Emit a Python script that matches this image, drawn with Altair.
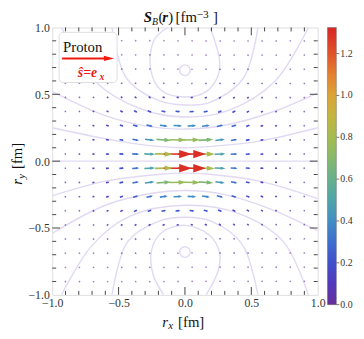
import math
import altair as alt
import pandas as pd

# ---------------- data ----------------
GRID_X = [-0.9, -0.794, -0.688, -0.582, -0.476, -0.371, -0.265, -0.159, -0.053,
          0.053, 0.159, 0.265, 0.371, 0.476, 0.582, 0.688, 0.794, 0.9]
GRID_Y = [0.9, 0.794, 0.688, 0.582, 0.476, 0.371, 0.265, 0.159, 0.053,
          -0.053, -0.159, -0.265, -0.371, -0.476, -0.582, -0.688, -0.794, -0.9]

# |S_B| at each arrow (rows top -> bottom, columns left -> right)
MAG = [
    [0.03, 0.03, 0.03, 0.03, 0.03, 0.03, 0.03, 0.03, 0.03, 0.03, 0.03, 0.03, 0.03, 0.03, 0.03, 0.03, 0.03, 0.03],
    [0.03, 0.03, 0.04, 0.04, 0.04, 0.04, 0.04, 0.03, 0.03, 0.03, 0.03, 0.04, 0.04, 0.04, 0.04, 0.04, 0.03, 0.03],
    [0.04, 0.04, 0.05, 0.05, 0.06, 0.06, 0.05, 0.04, 0.02, 0.02, 0.04, 0.05, 0.06, 0.06, 0.05, 0.05, 0.04, 0.04],
    [0.04, 0.05, 0.06, 0.07, 0.08, 0.08, 0.08, 0.07, 0.05, 0.05, 0.07, 0.08, 0.08, 0.08, 0.07, 0.06, 0.05, 0.04],
    [0.05, 0.07, 0.08, 0.10, 0.11, 0.12, 0.13, 0.13, 0.12, 0.12, 0.13, 0.13, 0.12, 0.11, 0.10, 0.08, 0.07, 0.05],
    [0.06, 0.08, 0.10, 0.12, 0.15, 0.18, 0.20, 0.22, 0.22, 0.22, 0.22, 0.20, 0.18, 0.15, 0.12, 0.10, 0.08, 0.06],
    [0.07, 0.09, 0.11, 0.15, 0.19, 0.25, 0.31, 0.37, 0.40, 0.40, 0.37, 0.31, 0.25, 0.19, 0.15, 0.11, 0.09, 0.07],
    [0.07, 0.09, 0.12, 0.16, 0.21, 0.30, 0.44, 0.68, 0.76, 0.76, 0.68, 0.44, 0.30, 0.21, 0.16, 0.12, 0.09, 0.07],
    [0.07, 0.09, 0.12, 0.16, 0.22, 0.32, 0.50, 0.82, 1.30, 1.30, 0.82, 0.50, 0.32, 0.22, 0.16, 0.12, 0.09, 0.07],
    [0.07, 0.09, 0.12, 0.16, 0.22, 0.32, 0.50, 0.82, 1.30, 1.30, 0.82, 0.50, 0.32, 0.22, 0.16, 0.12, 0.09, 0.07],
    [0.07, 0.09, 0.12, 0.16, 0.21, 0.30, 0.44, 0.68, 0.76, 0.76, 0.68, 0.44, 0.30, 0.21, 0.16, 0.12, 0.09, 0.07],
    [0.07, 0.09, 0.11, 0.15, 0.19, 0.25, 0.31, 0.37, 0.40, 0.40, 0.37, 0.31, 0.25, 0.19, 0.15, 0.11, 0.09, 0.07],
    [0.06, 0.08, 0.10, 0.12, 0.15, 0.18, 0.20, 0.22, 0.22, 0.22, 0.22, 0.20, 0.18, 0.15, 0.12, 0.10, 0.08, 0.06],
    [0.05, 0.07, 0.08, 0.10, 0.11, 0.12, 0.13, 0.13, 0.12, 0.12, 0.13, 0.13, 0.12, 0.11, 0.10, 0.08, 0.07, 0.05],
    [0.04, 0.05, 0.06, 0.07, 0.08, 0.08, 0.08, 0.07, 0.05, 0.05, 0.07, 0.08, 0.08, 0.08, 0.07, 0.06, 0.05, 0.04],
    [0.04, 0.04, 0.05, 0.05, 0.06, 0.06, 0.05, 0.04, 0.02, 0.02, 0.04, 0.05, 0.06, 0.06, 0.05, 0.05, 0.04, 0.04],
    [0.03, 0.03, 0.04, 0.04, 0.04, 0.04, 0.04, 0.03, 0.03, 0.03, 0.03, 0.04, 0.04, 0.04, 0.04, 0.04, 0.03, 0.03],
    [0.03, 0.03, 0.03, 0.03, 0.03, 0.03, 0.03, 0.03, 0.03, 0.03, 0.03, 0.03, 0.03, 0.03, 0.03, 0.03, 0.03, 0.03],
]

# direction of each arrow in degrees (counter-clockwise from +x)
ANG = [
    [-54, -55, -58, -62, -68, -78, -95, -115, -170, 170, 115, 95, 78, 68, 62, 58, 55, 54],
    [-52, -53, -55, -58, -64, -72, -85, -105, -150, 150, 105, 85, 72, 64, 58, 55, 53, 52],
    [-50, -50, -52, -55, -58, -65, -75, -85, -90, 90, 85, 75, 65, 58, 55, 52, 50, 50],
    [-45, -45, -46, -48, -50, -55, -60, -60, -35, 35, 60, 60, 55, 50, 48, 46, 45, 45],
    [-48, -47, -46, -45, -44, -42, -38, -25, -10, 10, 25, 38, 42, 44, 45, 46, 47, 48],
    [-28, -29, -30, -31, -30, -27, -20, -12, -5, 5, 12, 20, 27, 30, 31, 30, 29, 28],
    [-21, -21, -21, -21, -20, -17, -13, -8, -3, 3, 8, 13, 17, 20, 21, 21, 21, 21],
    [-14, -14, -14, -13, -12, -10, -7, -4, -1, 1, 4, 7, 10, 12, 13, 14, 14, 14],
    [-5, -5, -5, -4, -4, -3, -2, -1, 0, 0, 1, 2, 3, 4, 4, 5, 5, 5],
    [5, 5, 5, 4, 4, 3, 2, 1, 0, 0, -1, -2, -3, -4, -4, -5, -5, -5],
    [14, 14, 14, 13, 12, 10, 7, 4, 1, -1, -4, -7, -10, -12, -13, -14, -14, -14],
    [21, 21, 21, 21, 20, 17, 13, 8, 3, -3, -8, -13, -17, -20, -21, -21, -21, -21],
    [28, 29, 30, 31, 30, 27, 20, 12, 5, -5, -12, -20, -27, -30, -31, -30, -29, -28],
    [48, 47, 46, 45, 44, 42, 38, 25, 10, -10, -25, -38, -42, -44, -45, -46, -47, -48],
    [45, 45, 46, 48, 50, 55, 60, 60, 35, -35, -60, -60, -55, -50, -48, -46, -45, -45],
    [50, 50, 52, 55, 58, 65, 75, 85, 90, -90, -85, -75, -65, -58, -55, -52, -50, -50],
    [52, 53, 55, 58, 64, 72, 85, 105, 150, -150, -105, -85, -72, -64, -58, -55, -53, -52],
    [54, 55, 58, 62, 68, 78, 95, 115, 170, -170, -115, -95, -78, -68, -62, -58, -55, -54],
]

# streamlines (x list, y list)
STREAMS = {
    "axis": ([-1.0, 1.0], [0.0, 0.0]),
    "u1": ([-1.0, -0.5, -0.2, 0.0, 0.2, 0.56, 1.0], [0.25, 0.15, 0.11, 0.10, 0.11, 0.15, 0.25]),
    "u2": ([-1.0, -0.6, -0.28, 0.0, 0.31, 0.68, 1.0], [0.52, 0.34, 0.26, 0.24, 0.27, 0.375, 0.51]),
    "u3": ([-0.93, -0.68, -0.33, 0.0, 0.33, 0.68, 0.93], [1.0, 0.6, 0.39, 0.33, 0.38, 0.6, 1.0]),
    "u4": ([-0.55, -0.44, -0.19, 0.0, 0.19, 0.44, 0.55], [1.0, 0.62, 0.45, 0.42, 0.44, 0.62, 1.0]),
    "u5": ([-0.13, -0.23, -0.26, -0.18, 0.0, 0.16, 0.25, 0.26, 0.19], [1.0, 0.91, 0.70, 0.53, 0.48, 0.52, 0.64, 0.76, 1.0]),
    "u6": ([0.04, 0.028, 0.0, -0.028, -0.04, -0.028, 0.0, 0.028, 0.04], [0.68, 0.708, 0.72, 0.708, 0.68, 0.652, 0.64, 0.652, 0.68]),
    "l1": ([-1.0, -0.6, -0.2, 0.0, 0.2, 0.56, 1.0], [-0.26, -0.15, -0.10, -0.09, -0.10, -0.15, -0.28]),
    "l2": ([-1.0, -0.6, -0.25, 0.0, 0.3, 0.65, 1.0], [-0.54, -0.33, -0.24, -0.22, -0.25, -0.36, -0.52]),
    "l3": ([-0.93, -0.7, -0.41, 0.0, 0.4, 0.74, 0.93], [-1.0, -0.63, -0.41, -0.33, -0.39, -0.6, -1.0]),
    "l4": ([-0.55, -0.43, -0.2, 0.0, 0.2, 0.43, 0.55], [-1.0, -0.6, -0.45, -0.42, -0.45, -0.62, -1.0]),
    "l5": ([-0.16, -0.24, -0.25, -0.17, 0.0, 0.18, 0.26, 0.25, 0.16], [-1.0, -0.85, -0.66, -0.53, -0.48, -0.55, -0.68, -0.82, -1.0]),
    "l6": ([0.04, 0.028, 0.0, -0.028, -0.04, -0.028, 0.0, 0.028, 0.04], [-0.68, -0.652, -0.64, -0.652, -0.68, -0.708, -0.72, -0.708, -0.68]),
}

AXIS_LABELS = [-1.0, -0.5, 0.0, 0.5, 1.0]
MAJOR_TICKS = [-0.5, 0.0, 0.5]
MINOR_TICKS = [-0.9, -0.8, -0.7, -0.6, -0.4, -0.3, -0.2, -0.1, 0.1, 0.2, 0.3, 0.4, 0.6, 0.7, 0.8, 0.9]
CBAR_LABELS = [0.0, 0.2, 0.4, 0.6, 0.8, 1.0, 1.2]
CBAR_MAX = 1.325
CBAR_STOPS = [0.0, 0.1, 0.2, 0.3, 0.4, 0.5, 0.6, 0.7, 0.8, 0.9, 1.0, 1.1, 1.2, 1.325]
CBAR_COLORS = ["#66309a", "#5238bc", "#4150cc", "#3d6ecf", "#428ec3", "#4ea5aa", "#67b08d",
               "#86b96c", "#a5bc50", "#c4b540", "#dba437", "#e4802f", "#e0532a", "#d72624"]

# ---------------- geometry helpers ----------------
W, H = 270, 272
PX = 135.0          # pixels per data unit
ARROW_PX = 22.0     # arrow length per unit magnitude
HEAD_PX = 10.0      # head length per unit magnitude
CB_X, CB_W, CB_LEN = 280, 9, 282   # colour bar placement (pixels, plot coords)

rows = []
for r, yv in enumerate(GRID_Y):
    for c, xv in enumerate(GRID_X):
        m = MAG[r][c]
        a = ANG[r][c]
        th = math.radians(a)
        L = max(ARROW_PX * m, 1.8) / PX
        h = max(HEAD_PX * m, 0.8)
        ux, uy = math.cos(th), math.sin(th)
        tx, ty = xv + L / 2 * ux, yv + L / 2 * uy
        rows.append(dict(
            x=xv - L / 2 * ux, y=yv - L / 2 * uy,
            x2=tx - 0.5 * h / PX * ux, y2=ty - 0.5 * h / PX * uy,
            tx=tx, ty=ty, M=m, rot=(-a) % 360, hs=h * h,
            op=min(1.0, 0.45 + 4.0 * m),
        ))
arrows = pd.DataFrame(rows)

srows = []
for name, (sxs, sys_) in STREAMS.items():
    for i, (sx, sy) in enumerate(zip(sxs, sys_)):
        srows.append(dict(line=name, o=i, x=sx, y=sy))
streams = pd.DataFrame(srows)

xs = alt.Scale(domain=[-1, 1], nice=False, zero=False)
ys = alt.Scale(domain=[-1, 1], nice=False, zero=False)
SERIF = "Liberation Serif"
cscale = alt.Scale(domain=CBAR_STOPS, range=CBAR_COLORS, interpolate="rgb")
color_plain = alt.Color("M:Q", scale=cscale, legend=None)

axis_x = alt.Axis(values=AXIS_LABELS, format=".1f", ticks=False, domain=False, grid=False,
                  labelFont=SERIF, labelFontSize=12, labelColor="#333", labelPadding=3,
                  labelFlush=False, labelOverlap=False, title=None)
axis_y = alt.Axis(values=AXIS_LABELS, format=".1f", ticks=False, domain=False, grid=False,
                  labelFont=SERIF, labelFontSize=12, labelColor="#333", labelPadding=3,
                  labelFlush=False, labelOverlap=False, title=None)


def X(f):
    return alt.X(f, scale=xs, axis=axis_x)


def Y(f):
    return alt.Y(f, scale=ys, axis=axis_y)


stream_layer = alt.Chart(streams).mark_line(
    interpolate="catmull-rom", color="#e1d9f3", strokeWidth=1.4, clip=True
).encode(
    x=X("x:Q"), y=Y("y:Q"),
    detail="line:N",
    order="o:Q",
)

shaft_layer = alt.Chart(arrows).mark_rule(strokeWidth=1.6, strokeCap="butt").encode(
    x=X("x:Q"), y=Y("y:Q"),
    x2="x2:Q", y2="y2:Q",
    color=color_plain,
    opacity=alt.Opacity("op:Q", scale=None, legend=None),
)

head_layer = alt.Chart(arrows).mark_point(
    shape="M0,0L-2,-0.65L-2,0.65Z", filled=True, strokeWidth=0
).encode(
    x=X("tx:Q"), y=Y("ty:Q"),
    angle=alt.Angle("rot:Q", scale=None),
    size=alt.Size("hs:Q", scale=None, legend=None),
    color=color_plain,
    opacity=alt.Opacity("op:Q", scale=None, legend=None),
)

TICK_COLOR = "#444"
tick_major = pd.DataFrame({"v": MAJOR_TICKS})
tick_minor = pd.DataFrame({"v": MINOR_TICKS})


def vticks(df, y0, y1):
    return alt.Chart(df).mark_rule(color=TICK_COLOR, strokeWidth=1).encode(
        x=X("v:Q"), y=alt.value(y0), y2=alt.value(y1))


def hticks(df, x0, x1):
    return alt.Chart(df).mark_rule(color=TICK_COLOR, strokeWidth=1).encode(
        y=Y("v:Q"), x=alt.value(x0), x2=alt.value(x1))


ticks = [
    vticks(tick_major, H, H - 8), vticks(tick_minor, H, H - 4),
    vticks(tick_major, 0, 8), vticks(tick_minor, 0, 4),
    hticks(tick_major, 0, 8), hticks(tick_minor, 0, 4),
    hticks(tick_major, W, W - 8), hticks(tick_minor, W, W - 4),
]

one = pd.DataFrame({"a": [0]})

# ---------------- colour bar ----------------
cbar_rect = alt.Chart(one).mark_rect(
    color=alt.Gradient(
        gradient="linear", x1=0, x2=0, y1=1, y2=0,
        stops=[alt.GradientStop(offset=s / CBAR_MAX, color=c)
               for s, c in zip(CBAR_STOPS, CBAR_COLORS)],
    ),
    stroke="#666", strokeWidth=0.5,
).encode(x=alt.value(CB_X), x2=alt.value(CB_X + CB_W), y=alt.value(0), y2=alt.value(CB_LEN))

cbar_df = pd.DataFrame({"v": CBAR_LABELS})
cbar_pos = f"{CB_LEN}*(1 - datum.v/{CBAR_MAX})"
cbar_ticks = alt.Chart(cbar_df).transform_calculate(py=cbar_pos).mark_rule(
    color="#555", strokeWidth=0.8
).encode(x=alt.value(CB_X + CB_W), x2=alt.value(CB_X + CB_W + 3),
         y=alt.Y("py:Q", scale=None))
cbar_labels = alt.Chart(cbar_df).transform_calculate(py=cbar_pos).mark_text(
    font=SERIF, fontSize=10, color="#333", align="left", baseline="middle"
).encode(x=alt.value(CB_X + CB_W + 4), y=alt.Y("py:Q", scale=None),
         text=alt.Text("v:Q", format=".1f"))


def txt(s, x, y, size=14, style="normal", weight="normal", color="#111", angle=0, align="left"):
    return alt.Chart(one).mark_text(
        text=s, font=SERIF, fontSize=size, fontStyle=style, fontWeight=weight,
        color=color, align=align, baseline="alphabetic", angle=angle,
    ).encode(x=alt.value(x), y=alt.value(y))


# title  S_B(r) [fm^-3]
title = [
    txt("S", 93, -6, 15, "italic", "bold"),
    txt("B", 101.5, -3, 10, "italic"),
    txt("(", 108, -6, 15),
    txt("r", 112, -6, 15, "italic", "bold"),
    txt(")", 118, -6, 15),
    txt("[fm", 125.5, -6, 15),
    txt("\u22123", 147, -9.5, 11.5),
    txt("]", 163.5, -6, 15),
]

# axis titles
xtitle = [
    txt("r", 112, 305, 15, "italic"),
    txt("x", 118, 306.5, 11, "italic"),
    txt("[fm]", 128, 305, 15),
]
ytitle = [
    txt("r", -31, 160, 15, "italic", angle=270),
    txt("y", -28, 154, 11, "italic", angle=270),
    txt("[fm]", -31, 144, 15, angle=270),
]

# inset legend box
box = alt.Chart(one).mark_rect(
    fill="white", stroke="#dddddd", strokeWidth=1, cornerRadius=4, opacity=0.95
).encode(x=alt.value(7), x2=alt.value(66), y=alt.value(5), y2=alt.value(56))
box_arrow = alt.Chart(one).mark_rule(color="#f01a10", strokeWidth=2).encode(
    x=alt.value(10), x2=alt.value(56), y=alt.value(31.5))
box_head = alt.Chart(one).mark_point(
    shape="M0,0L-2,-0.5L-2,0.5Z", filled=True, opacity=1, strokeWidth=0, color="#f01a10",
    size=110,
).encode(x=alt.value(63), y=alt.value(31.5))
box_text = [
    txt("Proton", 11, 25, 15),
    txt("\u015d=e", 26, 50, 14, "italic", "bold", color="#f01a10"),
    txt("x", 48, 53, 10, "italic", "bold", color="#f01a10"),
]

chart = alt.layer(
    stream_layer, shaft_layer, head_layer, *ticks, box, box_arrow, box_head,
    *box_text, *title, *xtitle, *ytitle, cbar_rect, cbar_ticks, cbar_labels,
).properties(
    width=W, height=H,
    autosize=alt.AutoSizeParams(type="none"),
    padding={"left": 45, "top": 17, "right": 39, "bottom": 34},
).configure_view(stroke="#777", strokeWidth=1).configure(background="white")

chart.save("out.html", embed_options={"renderer": "svg", "actions": False})
